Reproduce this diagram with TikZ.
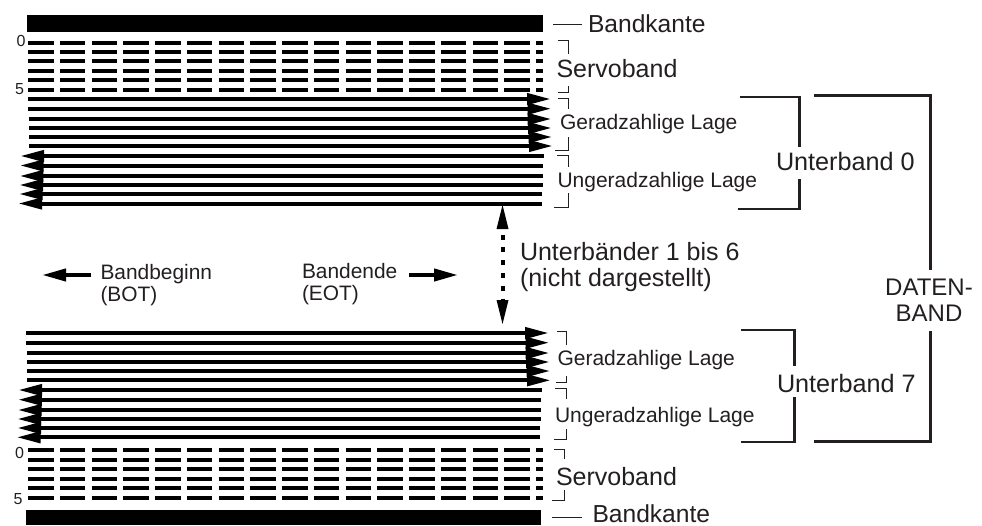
\documentclass[tikz,border=0pt]{standalone}
\usepackage{fontspec}
\setmainfont{Liberation Sans}
\usetikzlibrary{arrows.meta}
\definecolor{ink}{HTML}{231F20}
\newcommand{\fs}[1]{\fontsize{#1}{#1}\selectfont}
\tikzset{
  band/.style={fill=black,draw=none},
  track/.style={line width=4pt,black},
  servo/.style={line width=4pt,black,dash pattern=on 25.5pt off 6.25pt},
  trackr/.style={track,-{Triangle[length=24pt,width=11pt]}},
  trackl/.style={track,-{Triangle[length=24pt,width=11pt]}},
  thin bracket/.style={line width=1pt,ink},
  mid bracket/.style={line width=2.2pt,ink},
  big bracket/.style={line width=3pt,ink},
  lbl/.style={anchor=base west,inner sep=0pt,outer sep=0pt,text=ink},
  dirarrow/.style={line width=4pt,black,-{Triangle[length=24pt,width=12pt]}},
}
\begin{document}
\begin{tikzpicture}[x=1pt,y=-1pt]
\useasboundingbox (0,0) rectangle (982,525);
% band edges
\fill[band] (27,15) rectangle (543,32);
\fill[band] (26,510) rectangle (541,525);
% servo bands
\foreach \y in {42.5,52.2,61.3,70.7,80.2,89.7}{
  \draw[servo] (28,\y) -- (543,\y);
}
\foreach \y in {450.3,460,469,478.7,488,497.5}{
  \draw[servo] (28,\y) -- (543,\y);
}
% upper sub-band, even layer
\foreach \y/\a/\b in {99/28/551,108.7/28.3/551.5,119/28.5/551.7,128/29/552,137/29/552.5,146/29/553}{
  \draw[trackr] (\a,\y) -- (\b,\y);
}
% upper sub-band, odd layer
\foreach \y/\a/\b in {156/543.5/20,165.5/543/19.7,176/543/19.3,185/542.5/19,194/542/18.7,203.5/542/18}{
  \draw[trackl] (\a,\y) -- (\b,\y);
}
% lower sub-band, even layer
\foreach \y/\a/\b in {333/26/549,342.7/26.3/549.5,353/26.7/549.7,362/27/550,371/27/550.5,380.3/27/551}{
  \draw[trackr] (\a,\y) -- (\b,\y);
}
% lower sub-band, odd layer
\foreach \y/\a/\b in {390/541.7/18,399.7/541/17.8,410/541/17.5,419/540.5/17,428/540.3/17,437.3/540/16.5}{
  \draw[trackl] (\a,\y) -- (\b,\y);
}
% track numbers
\node[lbl] (n0a) at (16.5,46.5) {\fs{16}0};
\node[lbl] (n5a) at (15,94.5) {\fs{16}5};
\node[lbl] (n0b) at (15,458) {\fs{16}0};
\node[lbl] (n5b) at (13.5,504.5) {\fs{16}5};
% small brackets
\draw[thin bracket] (558,40.5) -- (568,40.5) -- (568,54);
\draw[thin bracket] (558,92) -- (568,92) -- (568,86);
\draw[thin bracket] (558,98) -- (568,98) -- (568,109);
\draw[thin bracket] (555,150) -- (568,150) -- (568,137);
\draw[thin bracket] (557,155) -- (568,155) -- (568,167);
\draw[thin bracket] (554,207) -- (568,207) -- (568,193);
\draw[thin bracket] (557,331) -- (566,331) -- (566,345);
\draw[thin bracket] (556,382) -- (566,382) -- (566,376);
\draw[thin bracket] (555,388) -- (566,388) -- (566,399);
\draw[thin bracket] (554,439) -- (566,439) -- (566,429);
\draw[thin bracket] (554,449) -- (564,449) -- (564,459);
\draw[thin bracket] (552,500) -- (564,500) -- (564,490);
% labels
\node[lbl] (bk1) at (588,32) {\fs{24.6}Bandkante};
\node[lbl] (bk2) at (592.5,522) {\fs{24.6}Bandkante};
\coordinate (bk1s) at (553,24);
\coordinate (bk1e) at (582,24);
\coordinate (bk2s) at (552,517);
\coordinate (bk2e) at (582,517);
\draw[thin bracket] (bk1s) -- (bk1e);
\draw[thin bracket] (bk2s) -- (bk2e);
\node[lbl] (sv1) at (556.5,77) {\fs{25}Servoband};
\node[lbl] (sv2) at (556,485.7) {\fs{25}Servoband};
\node[lbl] (g1) at (560,129.5) {\fs{21}Geradzahlige Lage};
\node[lbl] (g2) at (557.5,365.7) {\fs{21}Geradzahlige Lage};
\node[lbl] (u1) at (557.5,187) {\fs{21}Ungeradzahlige Lage};
\node[lbl] (u2) at (555,422.3) {\fs{21}Ungeradzahlige Lage};
\node[lbl] (ub0) at (776,170.7) {\fs{25.2}Unterband 0};
\node[lbl] (ub7) at (777,392.7) {\fs{25.2}Unterband 7};
\node[lbl,anchor=base] (dat) at (929,295) {\fs{24}DATEN-};
\node[lbl,anchor=base] (bnd) at (929,321.7) {\fs{24}BAND};
\node[lbl] (ub16) at (520,260.7) {\fs{25}Unterbänder 1 bis 6};
\node[lbl] (nd) at (520,286) {\fs{25}(nicht dargestellt)};
\node[lbl] (bb) at (100.5,279.3) {\fs{20.9}Bandbeginn};
\node[lbl] (bot) at (100.5,301.7) {\fs{20.9}(BOT)};
\node[lbl] (be) at (302,278) {\fs{20.9}Bandende};
\node[lbl] (eot) at (302,300) {\fs{20.9}(EOT)};
% large brackets
\draw[mid bracket] (740,96.7) -- (799.5,96.7) -- (799.5,146.7);
\draw[mid bracket] (738,209) -- (799.5,209) -- (799.5,179);
\draw[mid bracket] (741,330) -- (794.5,330) -- (794.5,365.7);
\draw[mid bracket] (741,442) -- (794.5,442) -- (794.5,397);
\draw[big bracket] (814,95.7) -- (930,95.7) -- (930,270);
\draw[big bracket] (814,441.7) -- (930,441.7) -- (930,330.7);
% direction arrows
\coordinate (la) at (91,275);
\coordinate (lb) at (42,275);
\coordinate (ra) at (409,275);
\coordinate (rb) at (458,275);
\draw[dirarrow] (la) -- (lb);
\draw[dirarrow] (ra) -- (rb);
% vertical dotted arrow
\coordinate (vt) at (502.5,205);
\coordinate (vtb) at (502.5,229);
\coordinate (vb) at (502.5,324);
\coordinate (vbb) at (502.5,300);
\fill[black] (vt) -- (496.5,229) -- (508.5,229) -- cycle;
\fill[black] (vb) -- (496.5,300) -- (508.5,300) -- cycle;
\draw[line width=4pt,black,dash pattern=on 5pt off 7.8pt] (502.5,234.5) -- (vbb);
\end{tikzpicture}
\end{document}
